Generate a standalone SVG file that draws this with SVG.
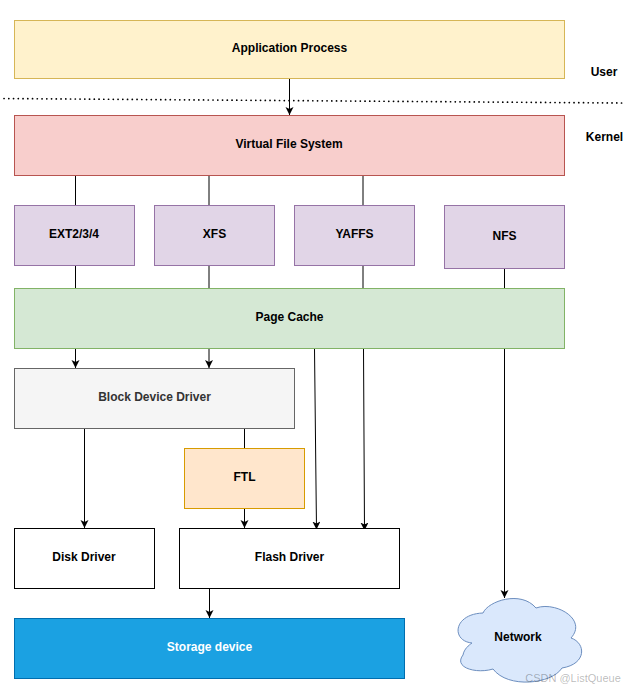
<svg xmlns="http://www.w3.org/2000/svg" width="626" height="690" viewBox="0 0 626 690">
<style>
text{font-family:"Liberation Sans",Arial,sans-serif;font-size:12px;font-weight:bold;fill:#000;text-anchor:middle}
rect,path.n{stroke-width:1}
.c{fill:none;stroke:#000;stroke-width:1}
</style>
<defs>
<marker id="a" markerUnits="userSpaceOnUse" markerWidth="10" markerHeight="10" refX="8" refY="4" orient="auto"><path d="M0 0L8 4L0 8L2 4Z" fill="#000"/></marker>
</defs>
<rect width="626" height="690" fill="#fff"/>
<path d="M4 98.500L622 103" fill="none" stroke="#000" stroke-width="1.700" stroke-linecap="round" stroke-dasharray="0.100 4.650"/>
<g id="connectors">
<path class="c" d="M289.500 78.500V115" marker-end="url(#a)"/>
<path class="c" d="M75.500 175.500V205.500M209 175.500V205.500M363 175.500V205.500"/>
<path class="c" d="M75.500 265.500V288.500M209 265.500V288.500M363 265.500V288.500M504.500 268.500V288.500"/>
<path class="c" d="M75.500 348.500V368" marker-end="url(#a)"/>
<path class="c" d="M209 348.500V368" marker-end="url(#a)"/>
<path class="c" d="M84.500 428.500V528" marker-end="url(#a)"/>
<path class="c" d="M244.500 428.500V448.500"/>
<path class="c" d="M244.500 508.500V528" marker-end="url(#a)"/>
<path class="c" d="M314.500 348.500L316.500 529.500" marker-end="url(#a)"/>
<path class="c" d="M363.500 348.500L364.500 530.500" marker-end="url(#a)"/>
<path class="c" d="M504.500 348.500V598" marker-end="url(#a)"/>
<path class="c" d="M209.500 588.500V618" marker-end="url(#a)"/>
</g>
<g id="app"><rect x="14.500" y="20.500" width="550" height="58" fill="#fff2cc" stroke="#d6b656"/><text x="289.500" y="52">Application Process</text></g>
<g id="user-label"><text x="604" y="76">User</text></g>
<g id="kernel-label"><text x="604.500" y="141">Kernel</text></g>
<g id="vfs"><rect x="14.500" y="115.500" width="550" height="60" fill="#f8cecc" stroke="#b85450"/><text x="289" y="148">Virtual File System</text></g>
<g id="ext"><rect x="14.500" y="205.500" width="120" height="60" fill="#e1d5e7" stroke="#9673a6"/><text x="74" y="238">EXT2/3/4</text></g>
<g id="xfs"><rect x="154.500" y="205.500" width="120" height="60" fill="#e1d5e7" stroke="#9673a6"/><text x="214.500" y="238">XFS</text></g>
<g id="yaffs"><rect x="294.500" y="205.500" width="120" height="60" fill="#e1d5e7" stroke="#9673a6"/><text x="354.500" y="238">YAFFS</text></g>
<g id="nfs"><rect x="444.500" y="205.500" width="120" height="63" fill="#e1d5e7" stroke="#9673a6"/><text x="504.500" y="240">NFS</text></g>
<g id="page-cache"><rect x="14.500" y="288.500" width="550" height="60" fill="#d5e8d4" stroke="#82b366"/><text x="289.500" y="321">Page Cache</text></g>
<g id="block"><rect x="14.500" y="368.500" width="280" height="60" fill="#f5f5f5" stroke="#666"/><text x="154.500" y="401" style="fill:#333">Block Device Driver</text></g>
<g id="ftl"><rect x="184.500" y="448.500" width="120" height="60" fill="#ffe6cc" stroke="#d79b00"/><text x="244.500" y="481">FTL</text></g>
<g id="disk"><rect x="14.500" y="528.500" width="140" height="60" fill="#fff" stroke="#000"/><text x="84" y="561">Disk Driver</text></g>
<g id="flash"><rect x="179.500" y="528.500" width="220" height="60" fill="#fff" stroke="#000"/><text x="289.500" y="561">Flash Driver</text></g>
<g id="storage"><rect x="14.500" y="618.500" width="390" height="60" fill="#1ba1e2" stroke="#006eaf"/><text x="209.500" y="651" style="fill:#fff">Storage device</text></g>
<g id="network"><path class="n" d="M483 613C488 601 521 590 536 608C555 601 588 619 571 638C586 643 587 664 562 668C552 684 508 689 493 669C477 674 453 668 463 655C464 649 469 645 472 643C451 641 453 614 483 613Z" fill="#dae8fc" stroke="#6c8ebf"/><text x="518" y="641">Network</text></g>
<text x="573" y="682" style="font-size:11px;font-weight:normal;fill:#000;fill-opacity:.28">CSDN @ListQueue</text>
</svg>
